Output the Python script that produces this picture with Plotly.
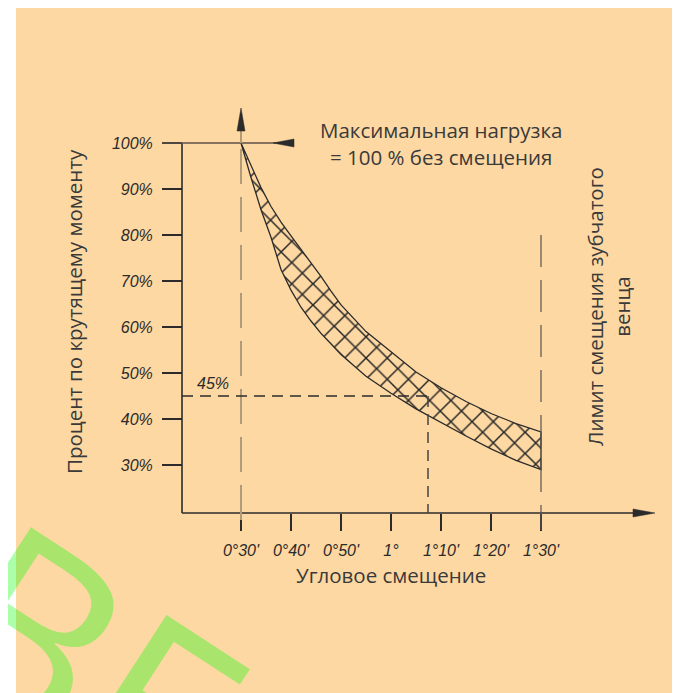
import plotly.graph_objects as go

# ---------------- data ----------------
x_tick_minutes = [30, 40, 50, 60, 70, 80, 90]
x_tick_labels = ["0°30'", "0°40'", "0°50'", "1°", "1°10'", "1°20'", "1°30'"]
y_tick_values = [30, 40, 50, 60, 70, 80, 90, 100]
y_tick_labels = ["30%", "40%", "50%", "60%", "70%", "80%", "90%", "100%"]

band_minutes = [30, 32, 34, 36, 38, 40, 42, 44, 46, 48, 50, 55, 60, 65, 70, 75, 80, 85, 90]
upper_pct = [100, 95, 90.3, 86.2, 82.8, 79.8, 76.9, 74, 71, 67.8, 64.8, 59, 54.5, 50.2, 46.8, 43.8, 41.2, 39, 37.2]
lower_pct = [100, 92.5, 85.5, 79.5, 72.5, 68, 64.3, 61.3, 58.6, 56.2, 54, 49.3, 45.6, 42.2, 39.3, 36.3, 33.5, 31, 29]

marker_pct = 45
marker_minutes = 67.4
start_minutes = 30
limit_minutes = 90
full_pct = 100

# ---------------- geometry helpers (page pixel -> data) ----------------
PAGE_OFF = 8                      # browser body margin
W, H = 680 - PAGE_OFF, 693 - PAGE_OFF
PX_REF, MIN_REF, PX_PER_MIN = 241, 30, 5.0
PY_REF, PCT_REF, PX_PER_PCT = 143, 100, 4.6
M_L, M_T = 16 - PAGE_OFF, 0


def xd(px):
    return MIN_REF + (px - PX_REF) / PX_PER_MIN


def yd(py):
    return PCT_REF - (py - PY_REF) / PX_PER_PCT


def dx(p):
    return p / PX_PER_MIN


def dy(p):
    return p / PX_PER_PCT


AX_X = xd(182)
AX_Y = yd(513)

INK = "#2b2b2b"
TAN = "#b29c78"
TXT = "#3a3a3a"
BG = "#fdd8a2"

fig = go.Figure()

# hatched band (closed polygon)
poly_x = band_minutes + band_minutes[::-1]
poly_y = upper_pct + lower_pct[::-1]
fig.add_trace(go.Scatter(
    x=poly_x, y=poly_y, mode="lines", fill="toself",
    fillcolor="rgba(0,0,0,0)",
    fillpattern=dict(shape="x", fgcolor="#262626", fgopacity=1, bgcolor="rgba(0,0,0,0)",
                     size=15, solidity=0.19, fillmode="overlay"),
    line=dict(color=INK, width=1.3),
    hoverinfo="skip", showlegend=False,
))

shapes = []
# axis lines
shapes.append(dict(type="line", xref="x", yref="y", x0=AX_X, x1=AX_X, y0=AX_Y, y1=full_pct,
                   line=dict(color=INK, width=1.6)))
shapes.append(dict(type="line", xref="x", yref="y", x0=AX_X, x1=xd(640), y0=AX_Y, y1=AX_Y,
                   line=dict(color=INK, width=1.6)))
# x axis arrowhead
shapes.append(dict(type="path", xref="x", yref="y",
                   path=f"M{xd(655)},{AX_Y} L{xd(633)},{AX_Y + dy(4)} L{xd(633)},{AX_Y - dy(4)} Z",
                   fillcolor=INK, line=dict(color=INK, width=0.5)))
# 100% reference line with left-pointing arrow
shapes.append(dict(type="line", xref="x", yref="y", x0=xd(162), x1=xd(293), y0=full_pct, y1=full_pct,
                   line=dict(color="#5e5248", width=1.6)))
shapes.append(dict(type="path", xref="x", yref="y",
                   path=f"M{xd(273)},{full_pct} L{xd(294)},{full_pct + dy(4)} L{xd(294)},{full_pct - dy(4)} Z",
                   fillcolor=INK, line=dict(color=INK, width=0.5)))
# vertical arrow at 0°30'
shapes.append(dict(type="line", xref="x", yref="y", x0=start_minutes, x1=start_minutes,
                   y0=full_pct, y1=yd(130), line=dict(color=TAN, width=2)))
shapes.append(dict(type="path", xref="x", yref="y",
                   path=f"M{start_minutes},{yd(108)} L{start_minutes + dx(4)},{yd(131)} L{start_minutes - dx(4)},{yd(131)} Z",
                   fillcolor=INK, line=dict(color=INK, width=0.5)))
# dashed 0°30' line
shapes.append(dict(type="line", xref="x", yref="y", x0=start_minutes, x1=start_minutes,
                   y0=full_pct - dy(6), y1=yd(530), line=dict(color=TAN, width=2, dash="35px,13px")))
# dashed 1°30' limit line
shapes.append(dict(type="line", xref="x", yref="y", x0=limit_minutes, x1=limit_minutes,
                   y0=yd(235), y1=yd(530), line=dict(color="#555555", width=1.2, dash="32px,13px")))
# 45% guide lines
shapes.append(dict(type="line", xref="x", yref="y", x0=AX_X, x1=marker_minutes, y0=marker_pct, y1=marker_pct,
                   line=dict(color=INK, width=1.5, dash="11px,7px")))
shapes.append(dict(type="line", xref="x", yref="y", x0=marker_minutes, x1=marker_minutes, y0=marker_pct, y1=AX_Y,
                   line=dict(color="#444444", width=1.5, dash="11px,7px")))

TFONT = dict(family="Open Sans", size=20.5, color=TXT)
annotations = []
annotations.append(dict(x=xd(213), y=yd(383), xref="x", yref="y", text="45%", showarrow=False,
                        font=dict(family="Liberation Sans", size=16, color=INK, style="italic")))
annotations.append(dict(x=xd(441), y=yd(143), xref="x", yref="y",
                        text="Максимальная нагрузка<br>= 100 % без смещения", showarrow=False,
                        font=TFONT))
annotations.append(dict(x=xd(391), y=yd(575), xref="x", yref="y", text="Угловое смещение", showarrow=False,
                        font=TFONT))
annotations.append(dict(x=xd(74), y=yd(312), xref="x", yref="y", text="Процент по крутящему моменту",
                        textangle=-90, showarrow=False, font=TFONT))
annotations.append(dict(x=xd(608), y=yd(307), xref="x", yref="y",
                        text="Лимит смещения зубчатого<br>венца", textangle=-90, showarrow=False,
                        font=TFONT))
# watermark
annotations.append(dict(x=xd(92), y=yd(664), xref="x", yref="y", text="ВЕ", textangle=33,
                        showarrow=False, font=dict(family="Open Sans", size=250, color="rgba(0,255,0,0.33)")))

TICKFONT = dict(family="Liberation Sans", size=16, color=INK, style="italic")
fig.update_layout(
    width=W, height=H,
    margin=dict(l=M_L, r=0, t=M_T, b=0, pad=0),
    paper_bgcolor="white", plot_bgcolor=BG,
    shapes=shapes, annotations=annotations,
    showlegend=False,
    xaxis=dict(range=[xd(16), xd(680)], showgrid=False, zeroline=False, showline=False,
               tickmode="array", tickvals=x_tick_minutes, ticktext=x_tick_labels,
               ticks="outside", ticklen=17, tickwidth=1.5, tickcolor=INK,
               anchor="free", position=(693 - 513) / H,
               tickfont=TICKFONT, ticklabelstandoff=6, fixedrange=True),
    yaxis=dict(range=[yd(693), yd(8)], showgrid=False, zeroline=False, showline=False,
               tickmode="array", tickvals=y_tick_values, ticktext=y_tick_labels,
               ticks="outside", ticklen=20, tickwidth=1.5, tickcolor=INK,
               anchor="free", position=(182 - 16) / (W - M_L),
               tickfont=TICKFONT, ticklabelstandoff=6, fixedrange=True),
)

fig.write_html("out.html")
